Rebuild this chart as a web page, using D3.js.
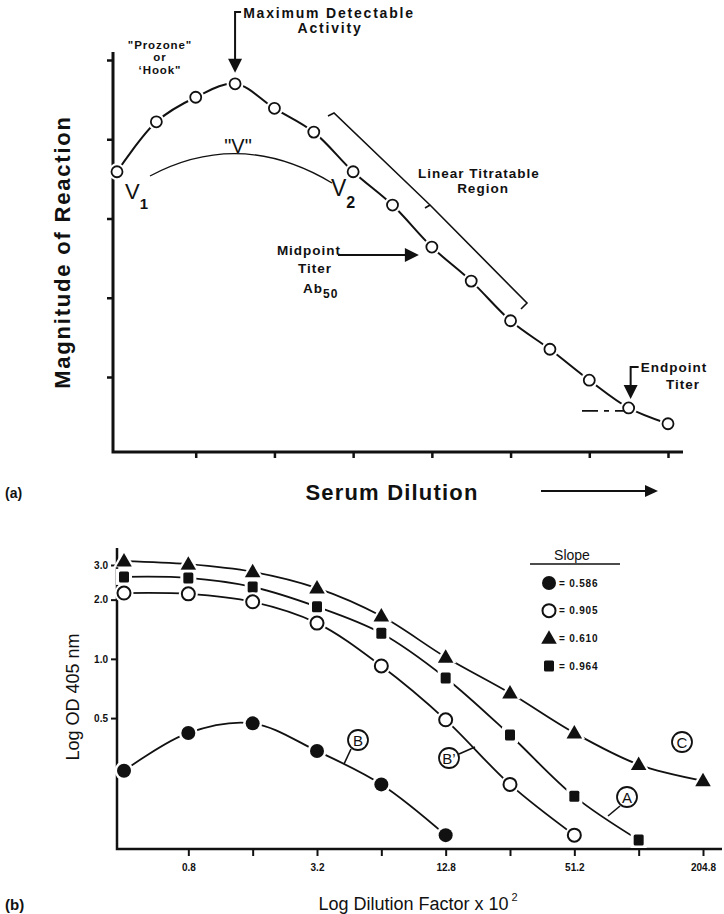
<!DOCTYPE html>
<html>
<head>
<meta charset="utf-8">
<script src="https://cdn.jsdelivr.net/npm/d3@7"></script>
<style>
  body { margin: 0; background: #fff; }
  text { font-family: "Liberation Sans", Arial, sans-serif; fill: #111; }
</style>
</head>
<body>
<svg id="chart" width="724" height="914"></svg>
<script>
// ---- panel (a): generic titration curve ----
const stepsA = d3.range(15);
const magnitudeA = [3.59, 4.22, 4.53, 4.70, 4.39, 4.09, 3.59, 3.17, 2.64, 2.21, 1.71, 1.35, 0.96, 0.61, 0.41];
const yTicksA = [1, 2, 3, 4, 5];
const xTicksA = [2, 4, 6, 8, 10, 12, 14];

// ---- panel (b): four sera ----
const dilutions = [0.4, 0.8, 1.6, 3.2, 6.4, 12.8, 25.6, 51.2, 102.4, 204.8];
const serumB = [0.27, 0.42, 0.47, 0.34, 0.23, 0.127];
const serumBprime = [2.16, 2.14, 1.95, 1.52, 0.92, 0.49, 0.23, 0.127];
const serumC = [3.14, 3.03, 2.77, 2.29, 1.65, 1.02, 0.67, 0.42, 0.29, 0.24];
const serumA = [2.61, 2.58, 2.32, 1.84, 1.35, 0.80, 0.41, 0.20, 0.12];
const slopes = ["0.586", "0.905", "0.610", "0.964"];
const yTicksB = [0.5, 1.0, 2.0, 3.0];
const xTickLabelsB = [0.8, 3.2, 12.8, 51.2, 204.8];

const svg = d3.select("#chart");
const ink = "#111";

// ================= panel (a) =================
const xA = d3.scaleLinear().domain([0, 14]).range([117, 668]);
const yA = d3.scaleLinear().domain([1, 5]).range([377, 60]);
const gA = svg.append("g");

// axes
gA.append("path").attr("d", "M113,52 V452 H683")
  .attr("fill", "none").attr("stroke", ink).attr("stroke-width", 3);

const yAxA = gA.append("g").attr("transform", "translate(113,0)")
  .call(d3.axisLeft(yA).tickValues(yTicksA).tickSize(6).tickFormat(""));
const xAxA = gA.append("g").attr("transform", "translate(0,452)")
  .call(d3.axisBottom(xA).tickValues(xTicksA).tickSize(6).tickFormat(""));
[yAxA, xAxA].forEach(a => {
  a.select(".domain").remove();
  a.selectAll("line").attr("stroke", ink).attr("stroke-width", 2.5);
});

// curve
const lineA = d3.line().x((d, i) => xA(stepsA[i])).y(d => yA(d)).curve(d3.curveCatmullRom);
gA.append("path").datum(magnitudeA).attr("d", lineA)
  .attr("fill", "none").attr("stroke", ink).attr("stroke-width", 2);

gA.selectAll("circle.halo").data(magnitudeA).join("circle")
  .attr("cx", (d, i) => xA(stepsA[i])).attr("cy", d => yA(d)).attr("r", 8.5)
  .attr("fill", "#fff");
gA.selectAll("circle.pt").data(magnitudeA).join("circle")
  .attr("cx", (d, i) => xA(stepsA[i])).attr("cy", d => yA(d)).attr("r", 5.5)
  .attr("fill", "#fff").attr("stroke", ink).attr("stroke-width", 1.8);

// axis titles
gA.append("text").attr("transform", "translate(70,252) rotate(-90)")
  .attr("text-anchor", "middle").attr("font-size", 22).attr("font-weight", "bold")
  .attr("letter-spacing", 1.8).text("Magnitude of Reaction");
gA.append("text").attr("x", 392).attr("y", 500).attr("text-anchor", "middle")
  .attr("font-size", 22).attr("font-weight", "bold").attr("letter-spacing", 1.2)
  .text("Serum Dilution");
gA.append("line").attr("x1", 541).attr("x2", 647).attr("y1", 491).attr("y2", 491)
  .attr("stroke", ink).attr("stroke-width", 2);
gA.append("path").attr("d", "M645,485 L658,491 L645,497 Z").attr("fill", ink);
svg.append("text").attr("x", 5).attr("y", 498).attr("font-size", 14)
  .attr("font-weight", "bold").text("(a)");

// annotations
const ann = (x, y, str, size, opts = {}) => {
  const t = gA.append("text").attr("x", x).attr("y", y).attr("font-size", size)
    .attr("text-anchor", opts.anchor || "middle")
    .attr("font-weight", opts.weight || "bold")
    .attr("letter-spacing", opts.ls == null ? 1 : opts.ls);
  t.text(str);
  return t;
};

// maximum detectable activity
const mx = xA(3), my = yA(magnitudeA[3]) - 11;
gA.append("path").attr("d", `M${mx + 6},12 H${mx} V${my - 13}`)
  .attr("fill", "none").attr("stroke", ink).attr("stroke-width", 2);
gA.append("path").attr("d", `M${mx - 7},${my - 14} L${mx + 7},${my - 14} L${mx},${my} Z`).attr("fill", ink);
ann(329, 18, "Maximum Detectable", 14, { ls: 1.8 });
ann(330, 33, "Activity", 14, { ls: 1.8 });

// prozone / hook
ann(160, 49, "\"Prozone\"", 11.5, { ls: 0.9 });
ann(160, 61, "or", 11.5, { ls: 0.9 });
ann(160, 74, "\u2018Hook\"", 11.5, { ls: 0.9 });

// V arc
gA.append("path").attr("d", "M150,176 Q240,128 332,183")
  .attr("fill", "none").attr("stroke", ink).attr("stroke-width", 1.4);
gA.append("rect").attr("x", 226).attr("y", 136).attr("width", 26).attr("height", 16).attr("fill", "#fff");
ann(238, 153, "\"V\"", 20, { weight: "normal", ls: 0 });
const v1 = ann(125, 199, "V", 22, { anchor: "start", weight: "normal", ls: 0 });
v1.append("tspan").attr("dy", 10).attr("font-size", 15).attr("font-weight", "bold").text("1");
const v2 = ann(331, 196, "V", 23, { anchor: "start", weight: "normal", ls: 0 });
v2.append("tspan").attr("dy", 12).attr("font-size", 16).attr("font-weight", "bold").text("2");

// linear titratable region brace
gA.append("path").attr("d", "M328,116 L334,113 L430,205 L425,208 M430,205 L527,303 L521,309")
  .attr("fill", "none").attr("stroke", ink).attr("stroke-width", 1.6);
ann(479, 178, "Linear Titratable", 13.5, { ls: 1 });
ann(483, 193, "Region", 13.5, { ls: 1 });

// midpoint titer
const ax = xA(8) - 13, ay = yA(magnitudeA[8]) + 8;
gA.append("line").attr("x1", 338).attr("x2", ax - 12).attr("y1", ay).attr("y2", ay)
  .attr("stroke", ink).attr("stroke-width", 2);
gA.append("path").attr("d", `M${ax - 14},${ay - 7} L${ax},${ay} L${ax - 14},${ay + 7} Z`).attr("fill", ink);
ann(309, 255, "Midpoint", 13.5, { ls: 1 });
ann(315, 273, "Titer", 13.5, { ls: 1 });
const ab = ann(303, 293, "Ab", 13.5, { anchor: "start", ls: 1 });
ab.append("tspan").attr("dy", 5).attr("font-size", 12).text("50");

// endpoint titer
const ex = xA(13) + 2, ey = yA(magnitudeA[13]) - 9;
gA.append("path").attr("d", `M${ex + 8},367 H${ex} V${ey - 13}`)
  .attr("fill", "none").attr("stroke", ink).attr("stroke-width", 2);
gA.append("path").attr("d", `M${ex - 7},${ey - 14} L${ex + 7},${ey - 14} L${ex},${ey} Z`).attr("fill", ink);
ann(674, 372, "Endpoint", 13.5, { ls: 1 });
ann(683, 389, "Titer", 13.5, { ls: 1 });
gA.append("line").attr("x1", 582).attr("x2", 624)
  .attr("y1", yA(magnitudeA[13]) + 3).attr("y2", yA(magnitudeA[13]) + 3)
  .attr("stroke", ink).attr("stroke-width", 1.6).attr("stroke-dasharray", "16,6,5,6");

// ================= panel (b) =================
const xB = d3.scaleLog().base(2).domain([0.4, 204.8]).range([124, 703]);
const yB = d3.scaleLog().domain([0.108, 3.0]).range([849, 565]);
const gB = svg.append("g");

gB.append("path").attr("d", "M117,548 V849 H722")
  .attr("fill", "none").attr("stroke", ink).attr("stroke-width", 2.5);

const yAxB = gB.append("g").attr("transform", "translate(117,0)")
  .call(d3.axisLeft(yB).tickValues(yTicksB).tickSize(6).tickPadding(3).tickFormat(d3.format(".1f")));
const xAxB = gB.append("g").attr("transform", "translate(0,849)")
  .call(d3.axisBottom(xB).tickValues(dilutions.slice(1)).tickSize(7).tickPadding(8)
    .tickFormat(d => xTickLabelsB.includes(d) ? d3.format(".1f")(d) : ""));
[yAxB, xAxB].forEach(a => {
  a.select(".domain").remove();
  a.selectAll("line").attr("stroke", ink).attr("stroke-width", 2);
  a.selectAll("text").attr("font-size", 10).attr("font-weight", "bold")
    .attr("font-family", "'Liberation Sans', Arial, sans-serif").attr("fill", ink);
});

const lineB = d3.line().x((d, i) => xB(dilutions[i])).y(d => yB(d)).curve(d3.curveCatmullRom);
const series = [
  { vals: serumC, mark: "tri" },
  { vals: serumA, mark: "sq" },
  { vals: serumBprime, mark: "open" },
  { vals: serumB, mark: "fill" }
];
series.forEach(s => {
  gB.append("path").datum(s.vals).attr("d", lineB)
    .attr("fill", "none").attr("stroke", ink).attr("stroke-width", 1.8);
});

function drawMark(g, kind, x, y) {
  if (kind === "tri") {
    g.append("path").attr("d", d3.symbol(d3.symbolTriangle, 200)())
      .attr("transform", `translate(${x},${y})`).attr("fill", "#fff");
    g.append("path").attr("d", d3.symbol(d3.symbolTriangle, 105)())
      .attr("transform", `translate(${x},${y + 1})`).attr("fill", ink);
  } else if (kind === "sq") {
    g.append("rect").attr("x", x - 8).attr("y", y - 8).attr("width", 16).attr("height", 16).attr("fill", "#fff");
    g.append("rect").attr("x", x - 5).attr("y", y - 5.5).attr("width", 10).attr("height", 11)
      .attr("rx", 1.5).attr("fill", ink);
  } else if (kind === "open") {
    g.append("circle").attr("cx", x).attr("cy", y).attr("r", 9.5).attr("fill", "#fff");
    g.append("circle").attr("cx", x).attr("cy", y).attr("r", 6.5)
      .attr("fill", "#fff").attr("stroke", ink).attr("stroke-width", 2);
  } else {
    g.append("circle").attr("cx", x).attr("cy", y).attr("r", 9.5).attr("fill", "#fff");
    g.append("circle").attr("cx", x).attr("cy", y).attr("r", 7).attr("fill", ink);
  }
}
series.forEach(s => s.vals.forEach((v, i) => drawMark(gB, s.mark, xB(dilutions[i]), yB(v))));

// circled curve labels
const circled = (cx, cy, label, lead) => {
  if (lead) gB.append("line").attr("x1", lead[0]).attr("y1", lead[1]).attr("x2", lead[2]).attr("y2", lead[3])
    .attr("stroke", ink).attr("stroke-width", 1.6);
  gB.append("circle").attr("cx", cx).attr("cy", cy).attr("r", 10)
    .attr("fill", "#fff").attr("stroke", ink).attr("stroke-width", 1.8);
  gB.append("text").attr("x", cx).attr("y", cy + 5.5).attr("text-anchor", "middle")
    .attr("font-size", 15).text(label);
};
circled(358, 740, "B", [351, 749, 344, 764]);
circled(449, 758, "B\u2019", [459, 754, 475, 747]);
circled(627, 797, "A", [620, 806, 608, 816]);
circled(682, 742, "C", null);

// legend
gB.append("text").attr("x", 572).attr("y", 560).attr("text-anchor", "middle")
  .attr("font-size", 14).text("Slope");
gB.append("line").attr("x1", 530).attr("x2", 620).attr("y1", 564).attr("y2", 564)
  .attr("stroke", ink).attr("stroke-width", 1.5);
const legendMarks = ["fill", "open", "tri", "sq"];
const legendY = d3.scalePoint().domain(legendMarks).range([583, 666]);
legendMarks.forEach((m, i) => {
  const ly = legendY(m);
  drawMark(gB, m, 549, ly);
  gB.append("text").attr("x", 559).attr("y", ly + 3.5).attr("font-size", 10)
    .attr("font-weight", "bold").attr("letter-spacing", 0.8).text("= " + slopes[i]);
});

// axis titles
gB.append("text").attr("transform", "translate(79,697) rotate(-90)")
  .attr("text-anchor", "middle").attr("font-size", 18).text("Log OD 405 nm");
const xt = gB.append("text").attr("x", 418).attr("y", 910).attr("text-anchor", "middle")
  .attr("font-size", 18).text("Log Dilution Factor x 10");
xt.append("tspan").attr("dx", 3).attr("dy", -9).attr("font-size", 11).text("2");
svg.append("text").attr("x", 5).attr("y", 910).attr("font-size", 15)
  .attr("font-weight", "bold").text("(b)");
</script>
</body>
</html>
